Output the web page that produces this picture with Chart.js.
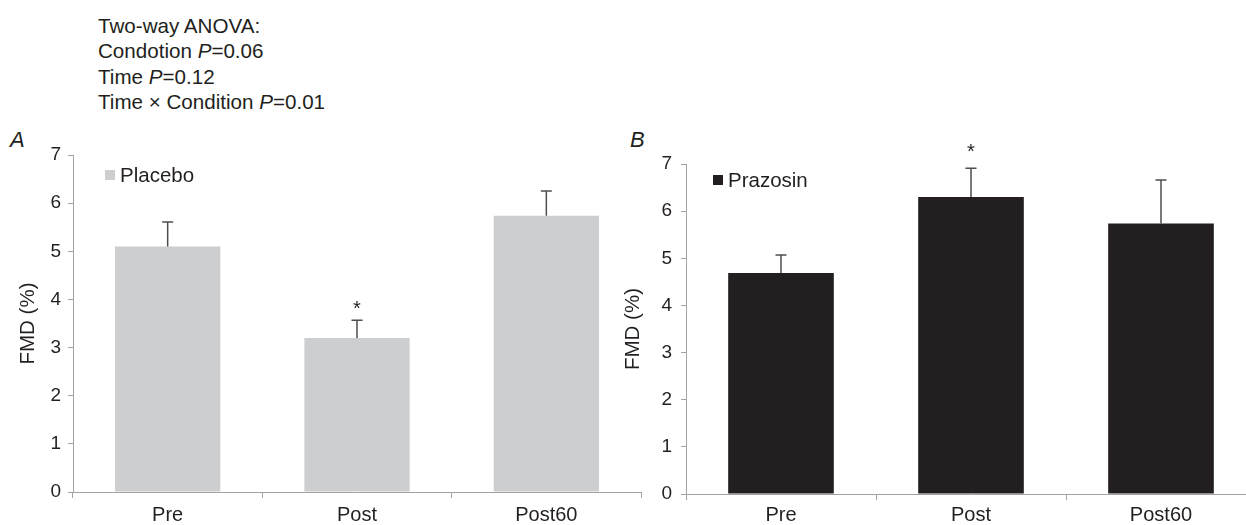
<!DOCTYPE html>
<html>
<head>
<meta charset="utf-8">
<script src="https://cdn.jsdelivr.net/npm/chart.js@4.4.1/dist/chart.umd.min.js"></script>
<style>
  html, body { margin:0; padding:0; background:#fff; overflow:hidden; width:1246px; height:525px; }
  body { position:relative; font-family:"Liberation Sans", Arial, Helvetica, sans-serif; color:#231f20; }
  #anova { position:absolute; left:98px; top:13px; font-size:20.6px; line-height:25.3px; white-space:nowrap; }
  .panel { position:absolute; font-size:22px; font-style:italic; line-height:25px; }
  canvas { position:absolute; top:0; }
</style>
</head>
<body>
<div id="anova">Two-way ANOVA:<br>Condotion <i>P</i>=0.06<br>Time <i>P</i>=0.12<br>Time × Condition <i>P</i>=0.01</div>
<div class="panel" style="left:10px; top:127px;">A</div>
<div class="panel" style="left:630px; top:127px;">B</div>
<canvas id="chartA" width="660" height="525" style="left:0px;"></canvas>
<canvas id="chartB" width="700" height="525" style="left:560px;"></canvas>
<script>
// ---- data ----
const categories = ["Pre", "Post", "Post60"];
const yTicks = [0, 1, 2, 3, 4, 5, 6, 7];
const placeboMean = [5.1, 3.2, 5.74];
const placeboSE   = [0.51, 0.37, 0.51];
const placeboSig  = [false, true, false];
const prazosinMean = [4.69, 6.3, 5.74];
const prazosinSE   = [0.38, 0.61, 0.92];
const prazosinSig  = [false, true, false];

const FONT = '"Liberation Sans", Arial, Helvetica, sans-serif';
const AXIS = '#a3a3a3';
const TEXT = '#231f20';

const extrasPlugin = {
  id: 'extras',
  afterDatasetsDraw(chart, args, opts) {
    const ctx = chart.ctx;
    const ys = chart.scales.y;
    const meta = chart.getDatasetMeta(0);
    const ds = chart.data.datasets[0];
    ctx.save();
    // error bars
    ctx.strokeStyle = '#4d4d4d';
    ctx.lineWidth = 1.5;
    meta.data.forEach((bar, i) => {
      const yTop = ys.getPixelForValue(ds.data[i] + opts.se[i]);
      ctx.beginPath();
      ctx.moveTo(bar.x, bar.y);
      ctx.lineTo(bar.x, yTop);
      ctx.moveTo(bar.x - 5.5, yTop);
      ctx.lineTo(bar.x + 5.5, yTop);
      ctx.stroke();
      if (opts.sig[i]) {
        ctx.fillStyle = TEXT;
        ctx.font = '20px ' + FONT;
        ctx.textAlign = 'center';
        ctx.textBaseline = 'alphabetic';
        ctx.fillText('*', bar.x, yTop - opts.starGap + 11);
      }
    });
    // legend
    const a = chart.chartArea;
    ctx.fillStyle = ds.backgroundColor;
    ctx.fillRect(a.left + opts.legX, a.top + opts.legY - 5, 10, 10);
    ctx.fillStyle = TEXT;
    ctx.font = '20.5px ' + FONT;
    ctx.textAlign = 'left';
    ctx.textBaseline = 'middle';
    ctx.fillText(ds.label, a.left + opts.legX + 15, a.top + opts.legY + 1);
    ctx.restore();
  }
};

function makeChart(id, label, color, mean, se, sig, cfg) {
  return new Chart(document.getElementById(id), {
    type: 'bar',
    data: {
      labels: categories,
      datasets: [{
        label: label,
        data: mean,
        backgroundColor: color,
        borderWidth: 0,
        categoryPercentage: 1.0,
        barPercentage: 0.556
      }]
    },
    options: {
      responsive: false,
      animation: false,
      devicePixelRatio: 1,
      layout: { padding: { left: 0, top: cfg.top, right: cfg.right, bottom: 0 } },
      plugins: {
        legend: { display: false },
        tooltip: { enabled: false },
        extras: { se: se, sig: sig, starGap: cfg.starGap, legX: cfg.legX, legY: cfg.legY }
      },
      scales: {
        x: {
          afterFit(s) { s.height = cfg.xHeight; },
          grid: { offset: true, drawOnChartArea: false, drawTicks: true, tickLength: 6, color: AXIS },
          border: { display: true, color: AXIS, width: 1 },
          ticks: { color: TEXT, font: { family: FONT, size: 20 }, padding: cfg.xPad, maxRotation: 0 }
        },
        y: {
          min: 0, max: 7,
          afterFit(s) { s.width = cfg.yWidth; },
          afterBuildTicks(s) { s.ticks = yTicks.map(v => ({ value: v })); },
          grid: { drawOnChartArea: false, drawTicks: true, tickLength: 5, color: AXIS },
          border: { display: true, color: AXIS, width: 1 },
          ticks: { color: TEXT, font: { family: FONT, size: 19 }, padding: cfg.yPad },
          title: { display: true, text: 'FMD (%)', color: TEXT, font: { family: FONT, size: 20.5, lineHeight: 1.2 }, padding: { top: cfg.titlePad, bottom: 0 } }
        }
      }
    },
    plugins: [extrasPlugin]
  });
}

makeChart('chartA', 'Placebo', '#cdced0', placeboMean, placeboSE, placeboSig,
  { top: 155, right: 19, xHeight: 33, yWidth: 73, yPad: 7, xPad: 5, titlePad: 16, starGap: 16, legX: 32, legY: 20 });
makeChart('chartB', 'Prazosin', '#231f20', prazosinMean, prazosinSE, prazosinSig,
  { top: 164, right: 4, xHeight: 31, yWidth: 126, yPad: 9, xPad: 3, titlePad: 61, starGap: 21, legX: 27, legY: 16 });
</script>
</body>
</html>
